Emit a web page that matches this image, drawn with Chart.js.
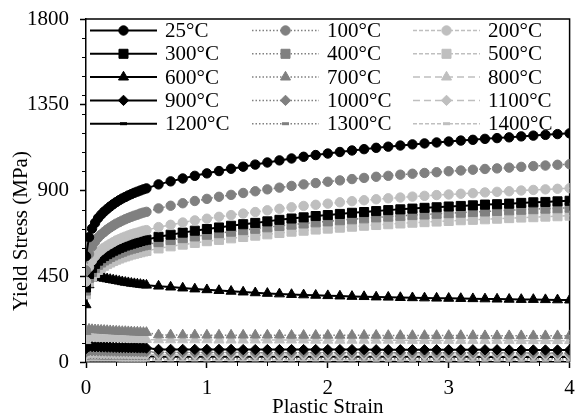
<!DOCTYPE html>
<html><head><meta charset="utf-8">
<script src="https://cdn.jsdelivr.net/npm/chart.js@4/dist/chart.umd.min.js"></script>
<style>html,body{margin:0;padding:0;background:#fff;}#wrap{width:577px;height:418px;}</style>
</head><body>
<div id="wrap"><canvas id="c" width="577" height="418"></canvas></div>
<script>
// ---------- data ----------
const strain = [0,0.025,0.05,0.075,0.1,0.125,0.15,0.175,0.2,0.225,0.25,0.275,0.3,0.325,0.35,0.375,0.4,0.425,0.45,0.475,0.5,
  0.6,0.7,0.8,0.9,1.0,1.1,1.2,1.3,1.4,1.5,1.6,1.7,1.8,1.9,2.0,2.1,2.2,2.3,2.4,2.5,2.6,2.7,2.8,2.9,3.0,3.1,3.2,3.3,3.4,3.5,3.6,3.7,3.8,3.9,4.0];

const temperatures = ['25°C','100°C','200°C','300°C','400°C','500°C','600°C','700°C','800°C','900°C','1000°C','1100°C','1200°C','1300°C','1400°C'];

const s25 = [555,655,700,730,755,773,789,803,816,828,839,849,858,866,874,881,888,894,900,906,911,
  932,948,963,977,990,1002,1014,1025,1036,1047,1058,1068,1077,1086,1094,1102,1110,1117,1124,1130,1136,1142,1147,1152,1157,1162,1166,1171,1175,1179,1184,1188,1192,1196,1200];
const s100 = [480,567,606,631,653,669,682,695,706,716,726,734,742,749,756,762,768,773,779,784,788,
  806,820,833,845,856,867,877,887,896,906,915,924,932,939,946,953,960,966,972,977,983,988,992,996,1001,1005,1009,1013,1016,1020,1024,1028,1031,1035,1038];
const s200 = [422,498,532,555,574,587,600,610,620,629,638,645,652,658,664,670,675,679,684,689,692,
  708,720,732,743,752,762,771,779,787,796,804,812,819,825,831,838,844,849,854,859,863,868,872,876,879,883,886,890,893,896,900,903,906,909,912];
const s300 = [391,462,494,515,532,545,556,566,575,584,591,599,605,611,616,621,626,630,635,639,642,
  657,668,679,689,698,706,715,723,730,738,746,753,759,766,771,777,783,787,792,797,801,805,809,812,816,819,822,826,828,831,835,838,840,843,846];
const s400 = [375,442,473,493,510,522,533,542,551,559,566,573,579,585,590,595,599,603,608,612,615,
  629,640,650,659,668,676,684,692,699,707,714,721,727,733,738,744,749,754,759,763,767,771,774,778,781,784,787,790,793,796,799,802,805,807,810];
const s500 = [355,419,448,467,483,495,505,514,522,530,537,543,549,554,559,564,568,572,576,580,583,
  596,607,616,625,634,641,649,656,663,670,677,684,689,695,700,705,710,715,719,723,727,731,734,737,740,744,746,749,752,755,758,760,763,765,768];
const s600 = [300,405,440,447,445,442,439,436,433,430,427,424,421,418,416,413,411,409,407,405,403,
  398,393,388,383,379,375,371,367,363,360,357,354,352,350,348,346,344,343,341,340,338,337,336,335,334,333,332,331,330,329,328,328,327,326,325];
const s700 = [160,172,170,169,168,167,166,165,164,163,162,161,160,160,159,158,157,157,156,155,155,
  142,142,142,142,141,141,141,141,141,141,141,140,140,140,140,140,140,140,140,139,139,139,139,139,139,139,139,138,138,138,138,138,138,138,138];
const s800 = [112,128,127,126,126,125,125,124,124,123,123,122,122,121,121,120,120,119,119,118,118,
  116,116,116,116,116,115,115,115,115,115,115,115,115,114,114,114,114,114,114,114,114,113,113,113,113,113,113,113,113,113,112,112,112,112,112];
const s900 = [70,82,81,80,80,79,79,78,78,77,77,76,76,76,75,75,75,74,74,74,73,
  66,66,66,66,66,66,66,65,65,65,65,65,65,65,65,65,65,65,64,64,64,64,64,64,64,64,64,64,64,63,63,63,63,63,63];
const s1000 = [52,60,59,59,58,58,58,57,57,57,56,56,56,56,55,55,55,55,54,54,54,
  50,50,50,50,50,50,50,50,49,49,49,49,49,49,49,49,49,49,49,48,48,48,48,48,48,48,48,48,48,48,48,47,47,47,47];
const s1100 = [38,45,44,44,44,43,43,43,43,42,42,42,42,42,41,41,41,41,41,40,40,
  37,37,37,37,37,37,37,37,37,37,36,36,36,36,36,36,36,36,36,36,36,36,35,35,35,35,35,35,35,35,35,35,35,35,35];
const s1200 = [30,33,33,33,32,32,32,32,32,32,31,31,31,31,31,31,31,30,30,30,30,
  28,28,28,28,28,28,28,28,28,28,28,28,28,27,27,27,27,27,27,27,27,27,27,27,27,27,27,26,26,26,26,26,26,26,26];
const s1300 = [20,22,22,22,22,21,21,21,21,21,21,21,21,20,20,20,20,20,20,20,20,
  18,18,18,18,18,18,18,18,18,18,18,18,18,18,18,18,18,17,17,17,17,17,17,17,17,17,17,17,17,17,17,17,17,17,17];
const s1400 = [11,12,12,12,12,12,12,12,12,12,12,11,11,11,11,11,11,11,11,11,11,
  10,10,10,10,10,10,10,10,10,10,10,10,10,10,10,10,10,10,9,9,9,9,9,9,9,9,9,9,9,9,9,9,9,9,9];

const yTickValues = [0,450,900,1350,1800];
const xTickValues = [0,1,2,3,4];
const xTitle = 'Plastic Strain';
const yTitle = 'Yield Stress (MPa)';

// ---------- styling ----------
const seriesValues = [s25,s100,s200,s300,s400,s500,s600,s700,s800,s900,s1000,s1100,s1200,s1300,s1400];
const FONT = 'Liberation Serif, Times New Roman, serif';
const colColors = ['#000000','#808080','#bfbfbf'];
const shapes = ['circle','rect','triangle','rectRot','line'];
const radii = {circle:4.7, rect:6.4, triangle:5.8, rectRot:5.2, line:3.5};

const datasets = seriesValues.map((vals, i) => {
  const col = i % 3, row = Math.floor(i / 3);
  const color = colColors[col];
  let dash = [];
  if (col === 1) dash = [1.5, 2];
  if (col === 2) dash = (row === 2 || row === 3) ? [7, 4] : [4, 2];
  const shape = shapes[row];
  return {
    label: temperatures[i],
    data: strain.map((x, k) => ({x: x, y: vals[k]})),
    borderColor: color,
    backgroundColor: color,
    borderWidth: col === 0 ? 2 : 1.5,
    borderDash: dash,
    pointStyle: shape,
    pointRadius: radii[shape],
    pointBackgroundColor: color,
    pointBorderColor: color,
    pointBorderWidth: shape === 'line' ? 3 : 1,
    tension: 0,
    fill: false
  };
});

const decorPlugin = {
  id: 'decor',
  beforeDatasetsDraw(chart) {
    const {ctx, chartArea: a} = chart;
    ctx.save();
    ctx.strokeStyle = '#000';
    ctx.lineWidth = 1.5;
    ctx.beginPath();
    ctx.moveTo(a.left, a.top); ctx.lineTo(a.right, a.top); ctx.lineTo(a.right, a.bottom);
    ctx.stroke();
    // minor ticks
    ctx.lineWidth = 1;
    const ys = chart.scales.y, xs = chart.scales.x;
    ctx.beginPath();
    for (let v = 100; v < 1800; v += 100) {
      if (v % 450 === 0) continue;
      const py = Math.round(ys.getPixelForValue(v)) + 0.5;
      ctx.moveTo(a.left, py); ctx.lineTo(a.left - 4, py);
    }
    for (let v = 0.25; v < 4; v += 0.25) {
      if (Math.abs(v - Math.round(v)) < 1e-6) continue;
      const px = Math.round(xs.getPixelForValue(v)) + 0.5;
      ctx.moveTo(px, a.bottom); ctx.lineTo(px, a.bottom + 4);
    }
    ctx.stroke();
    ctx.restore();
  },
  afterDraw(chart) {
    const ctx = chart.ctx;
    // y axis title
    ctx.save();
    ctx.fillStyle = '#000';
    ctx.font = '21px ' + FONT;
    ctx.translate(27, 231);
    ctx.rotate(-Math.PI / 2);
    ctx.textAlign = 'center';
    ctx.textBaseline = 'alphabetic';
    ctx.fillText(yTitle, 0, 0);
    ctx.restore();
    // legend
    const colX = [90, 252, 413];
    chart.data.datasets.forEach((ds, i) => {
      const col = i % 3, row = Math.floor(i / 3);
      const x0 = colX[col], y = 30.5 + row * 23.3;
      ctx.save();
      ctx.strokeStyle = ds.borderColor;
      ctx.lineWidth = ds.borderWidth;
      ctx.setLineDash(ds.borderDash);
      ctx.beginPath(); ctx.moveTo(x0, y); ctx.lineTo(x0 + 67, y); ctx.stroke();
      ctx.setLineDash([]);
      ctx.fillStyle = ds.pointBackgroundColor;
      ctx.strokeStyle = ds.pointBorderColor;
      ctx.lineWidth = ds.pointBorderWidth;
      Chart.helpers.drawPoint(ctx, {pointStyle: ds.pointStyle, radius: ds.pointRadius, rotation: 0, borderWidth: ds.pointBorderWidth}, x0 + 33.5, y);
      ctx.fillStyle = '#000';
      ctx.font = '21px ' + FONT;
      ctx.textAlign = 'left';
      ctx.textBaseline = 'middle';
      ctx.fillText(ds.label, x0 + 75, y + 1);
      ctx.restore();
    });
  }
};

new Chart(document.getElementById('c'), {
  type: 'line',
  data: {datasets: datasets},
  plugins: [decorPlugin],
  options: {
    responsive: false,
    animation: false,
    devicePixelRatio: 1,
    events: [],
    layout: {padding: {top: 19, right: 4, left: 0, bottom: 0}},
    plugins: {legend: {display: false}, tooltip: {enabled: false}},
    scales: {
      x: {
        type: 'linear', min: 0, max: 4,
        afterBuildTicks: s => { s.ticks = xTickValues.map(v => ({value: v})); },
        afterFit: s => { s.height = 56; s.paddingLeft = 0; s.paddingRight = 0; },
        ticks: {font: {family: FONT, size: 21, lineHeight: 1}, color: '#000', padding: 10, maxRotation: 0, autoSkip: false,
          callback: v => String(v)},
        grid: {drawOnChartArea: false, drawTicks: true, tickLength: 6, color: '#000', tickWidth: 1.5},
        border: {display: true, color: '#000', width: 1.5},
        title: {display: true, text: xTitle, color: '#000', font: {family: FONT, size: 21, lineHeight: 1}, padding: {top: 0, bottom: 0}}
      },
      y: {
        type: 'linear', min: 0, max: 1800,
        afterBuildTicks: s => { s.ticks = yTickValues.map(v => ({value: v})); },
        afterFit: s => { s.width = 86; s.paddingTop = 0; s.paddingBottom = 0; },
        ticks: {font: {family: FONT, size: 21, lineHeight: 1}, color: '#000', padding: 11, autoSkip: false,
          callback: v => String(v)},
        grid: {drawOnChartArea: false, drawTicks: true, tickLength: 6, color: '#000', tickWidth: 1.5},
        border: {display: true, color: '#000', width: 1.5}
      }
    }
  }
});
</script>
</body></html>
